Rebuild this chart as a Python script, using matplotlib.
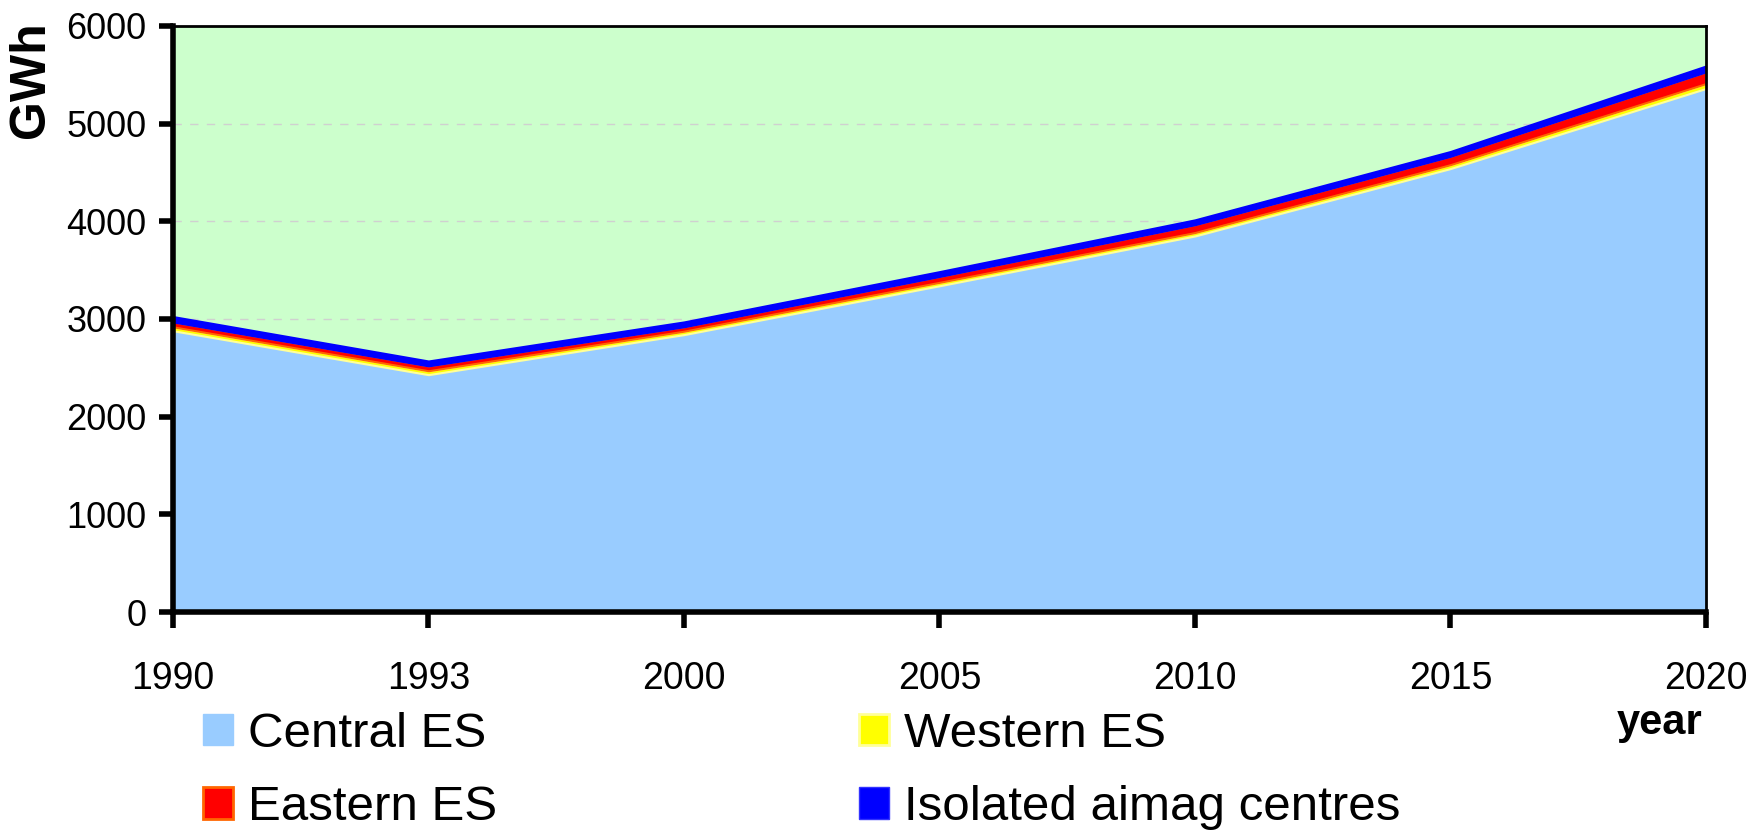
import matplotlib.pyplot as plt
from matplotlib.patches import Patch

plt.rcParams['font.family'] = ['Liberation Sans', 'DejaVu Sans']

years = ['1990', '1993', '2000', '2005', '2010', '2015', '2020']
central = [2880, 2430, 2840, 3340, 3850, 4540, 5360]
western = [40, 40, 35, 35, 35, 40, 50]
eastern = [50, 50, 45, 60, 80, 85, 120]
isolated = [55, 50, 50, 50, 50, 50, 60]

labels = ['Central ES', 'Western ES', 'Eastern ES', 'Isolated aimag centres']
colors = ['#99CCFF', '#FFFF00', '#FF0000', '#0000FF']
edges = ['#99CCFF', '#FFFF99', '#FF6600', '#0000FF']

fig = plt.figure(figsize=(17.52, 8.32), dpi=100)
ax = fig.add_axes([0.0987, 0.2644, 0.875, 0.7044])
ax.set_facecolor('#CCFFCC')

x = list(range(len(years)))
polys = ax.stackplot(x, central, western, eastern, isolated, colors=colors, zorder=2)
for p, ec in zip(polys, edges):
    p.set_edgecolor(ec)
    p.set_linewidth(1.5)

ax.set_xlim(0, len(years) - 1)
ax.set_ylim(0, 6000)
ax.set_yticks(range(0, 6001, 1000))
ax.set_xticks(x)
ax.set_xticklabels(years)
ax.yaxis.grid(True, color='#D0D0D0', linestyle=(0, (6, 6)), linewidth=1, zorder=1)
ax.set_axisbelow(True)

for s in ['left', 'bottom']:
    ax.spines[s].set_linewidth(4)
for s in ['top', 'right']:
    ax.spines[s].set_linewidth(2)
ax.tick_params(axis='y', length=10, width=4, labelsize=26, pad=9)
ax.tick_params(axis='x', length=11.5, width=4, labelsize=27, pad=24)

fig.text(0.0177, 0.904, 'GWh', rotation=90, fontsize=36, fontweight='bold',
         ha='center', va='center')
fig.text(0.9715, 0.1178, 'year', fontsize=30, fontweight='bold', ha='right', va='baseline')

handles = [Patch(facecolor=colors[0], edgecolor=edges[0], label=labels[0]),
           Patch(facecolor=colors[2], edgecolor=edges[2], linewidth=2, label=labels[2]),
           Patch(facecolor=colors[1], edgecolor=edges[1], linewidth=2, label=labels[1]),
           Patch(facecolor=colors[3], edgecolor='#3333FF', label=labels[3])]
fig.legend(handles=handles, ncol=2, loc='upper left', bbox_to_anchor=(0.116, 0.144),
           frameon=False, fontsize=35.5, handlelength=0.6, handleheight=0.6,
           handletextpad=0.3, columnspacing=7.35, labelspacing=0.57,
           borderaxespad=0, borderpad=0)

fig.savefig('out.png', dpi=100)
